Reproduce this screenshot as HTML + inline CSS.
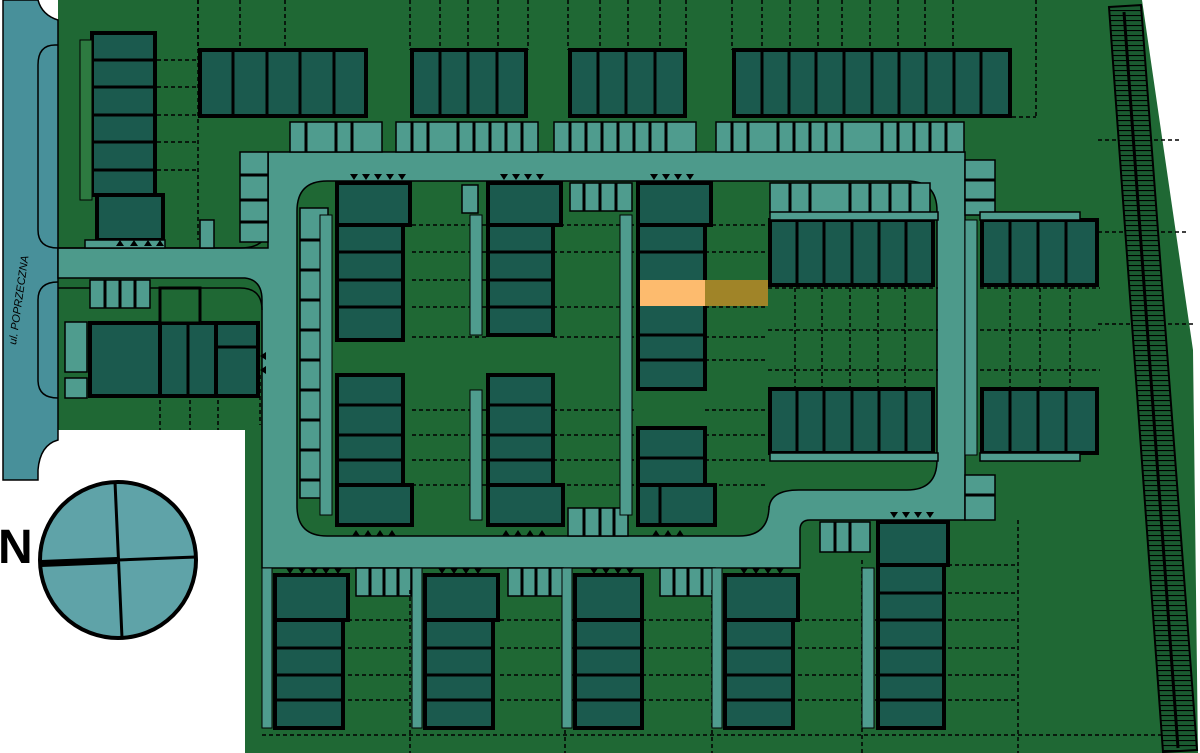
<!DOCTYPE html>
<html><head><meta charset="utf-8"><style>
html,body{margin:0;padding:0;background:#fff;width:1200px;height:753px;overflow:hidden}
svg{display:block}
.b{fill:#1b5a4e;stroke:#000;stroke-width:4}
.d{stroke:#000;stroke-width:3}
.l{fill:none;stroke:#000;stroke-width:1.5;stroke-dasharray:4 3}
.p{fill:#4f9c8e;stroke:#000;stroke-width:1.5}
</style></head><body>
<svg width="1200" height="753" viewBox="0 0 1200 753" xmlns="http://www.w3.org/2000/svg">
<!-- grass -->
<path d="M58,0 L1142,0 L1193,350 L1198,753 L245,753 L245,430 L58,430 Z" fill="#1f6834"/>
<!-- street -->
<path d="M3,0 L38,0 Q42,15 58,20 L58,440 Q40,445 38,470 L38,480 L3,480 Z" fill="#48909a" stroke="#000" stroke-width="1.5"/>
<text x="0" y="0" transform="translate(16,345) rotate(-82)" font-family="Liberation Sans, sans-serif" font-style="italic" font-size="11" fill="#000">ul. POPRZECZNA</text>
<path d="M58,45 L55,45 Q38,45 38,65 L38,230 Q38,248 58,248" fill="none" stroke="#000" stroke-width="1.5"/>
<path d="M58,282 Q38,282 38,300 L38,380 Q38,398 58,398" fill="none" stroke="#000" stroke-width="1.5"/>
<!-- roads -->
<path d="M58,248 L268,248 L268,152 L965,152 L965,520 L810,520 Q800,520 800,530 L800,568 L262,568 L262,300 Q262,280 245,278 L58,278 Z" fill="#4d9a8b" stroke="#000" stroke-width="1.5"/>
<path d="M58,248 L240,248 Q268,248 268,225 L268,152" fill="none" stroke="#000" stroke-width="1.5"/>
<path d="M327,181 L907,181 Q937,181 937,211 L937,460 Q937,490 907,490 L799,490 Q769,490 769,510 L769,506 Q769,536 739,536 L327,536 Q297,536 297,506 L297,211 Q297,181 327,181 Z" fill="#1f6834" stroke="#000" stroke-width="1.5"/>
<!-- left lower parcel road edge -->
<path d="M58,288 L240,288 Q262,288 262,310" fill="none" stroke="#000" stroke-width="1.5"/>
<!-- walkways light -->
<rect x="240" y="152" width="28" height="90" class="p"/>
<rect x="300" y="208" width="28" height="290" class="p"/>
<rect x="965" y="160" width="30" height="55" class="p"/>
<rect x="965" y="475" width="30" height="45" class="p"/>
<rect x="965" y="220" width="12" height="235" fill="#4f9c8e" stroke="#000" stroke-width="1"/>
<!-- parking rows top -->
<g class="p">
<rect x="290" y="122" width="92" height="30"/><rect x="396" y="122" width="142" height="30"/><rect x="554" y="122" width="142" height="30"/><rect x="716" y="122" width="248" height="30"/>
<rect x="570" y="183" width="62" height="28"/><rect x="770" y="183" width="160" height="30"/>
<rect x="568" y="508" width="60" height="28"/><rect x="820" y="522" width="50" height="30"/>
<rect x="356" y="568" width="55" height="28"/><rect x="508" y="568" width="55" height="28"/><rect x="660" y="568" width="55" height="28"/>
<rect x="90" y="280" width="60" height="28"/><rect x="65" y="322" width="22" height="50"/><rect x="65" y="378" width="22" height="20"/>
<rect x="462" y="185" width="16" height="28"/><rect x="200" y="220" width="14" height="28"/>
</g>
<g class="d" fill="none" stroke-width="1.2">
<path d="M306,122v30M336,122v30M352,122v30M412,122v30M428,122v30M458,122v30M474,122v30M490,122v30M506,122v30M522,122v30M570,122v30M586,122v30M602,122v30M618,122v30M634,122v30M650,122v30M666,122v30M732,122v30M748,122v30M778,122v30M794,122v30M810,122v30M826,122v30M842,122v30M882,122v30M898,122v30M914,122v30M930,122v30M946,122v30"/>
<path d="M300,240h28M300,270h28M300,300h28M300,330h28M300,360h28M300,390h28M300,420h28M300,450h28M300,480h28M240,175h28M240,200h28M240,222h28M965,180h30M965,200h30M965,495h30M584,183v28M600,183v28M616,183v28M790,183v30M810,183v30M850,183v30M870,183v30M890,183v30M910,183v30M584,508v28M600,508v28M614,508v28M370,568v28M384,568v28M398,568v28M522,568v28M536,568v28M550,568v28M674,568v28M688,568v28M702,568v28M835,522v30M850,522v30M105,280v28M120,280v28M135,280v28"/>
</g>
<!-- dashed lot lines -->
<g class="l">
<path d="M198,0v50M240,0v50M285,0v50M410,0v50M440,0v50M468,0v50M498,0v50M528,0v50M568,0v50M600,0v50M628,0v50M660,0v50M686,0v50M732,0v50M762,0v50M790,0v50M818,0v50M842,0v50M870,0v50M898,0v50M925,0v50M953,0v50M1036,0v117M1012,117h24"/>
<path d="M157,60h40M157,87h40M157,115h40M157,142h40M157,170h40M198,0v240"/>
<path d="M412,225h75M412,252h75M412,280h75M412,307h75M412,337h75M412,410h75M412,435h75M412,460h75M412,485h75"/>
<path d="M553,225h84M553,252h84M553,307h84M553,337h84M553,410h84M553,435h84M553,460h84M553,485h84"/>
<path d="M705,225h63M705,252h63M705,307h63M705,337h63M705,360h63M705,410h63M705,435h63M705,460h63M705,485h63"/>
<path d="M768,288h170M768,330h170M768,370h170M795,288v100M822,288v100M850,288v100M878,288v100M905,288v100"/>
<path d="M980,288h120M980,330h120M980,370h120M1010,288v100M1040,288v100M1070,288v100"/>
<path d="M1098,140h82M1098,232h88M1098,324h95"/>
<path d="M348,620h75M348,648h75M348,675h75M348,700h75M500,620h73M500,648h73M500,675h73M500,700h73M642,620h80M642,648h80M642,675h80M642,700h80M798,620h79M798,648h79M798,675h79M798,700h79M948,565h70M948,593h70M948,620h70M948,648h70M948,675h70M948,700h70"/>
<path d="M262,735h940M410,590v163M565,590v163M712,590v163M862,560v193M1018,520v233"/>
<path d="M160,400v30M190,400v30M218,400v30M260,375v50"/>
</g>
<!-- top row buildings -->
<rect x="200" y="50" width="166" height="66" class="b"/>
<path class="d" d="M233,50v66M267,50v66M300,50v66M334,50v66"/>
<rect x="412" y="50" width="114" height="66" class="b"/>
<path class="d" d="M440,50v66M468,50v66M497,50v66"/>
<rect x="570" y="50" width="115" height="66" class="b"/>
<path class="d" d="M598,50v66M626,50v66M655,50v66"/>
<rect x="734" y="50" width="276" height="66" class="b"/>
<path class="d" d="M762,50v66M789,50v66M816,50v66M844,50v66M872,50v66M899,50v66M926,50v66M954,50v66M981,50v66"/>
<!-- left column -->
<rect x="92" y="33" width="63" height="162" class="b"/>
<path class="d" d="M92,60h63M92,87h63M92,115h63M92,142h63M92,170h63"/>
<rect x="97" y="195" width="66" height="45" class="b"/>
<rect x="80" y="40" width="12" height="160" fill="#2d7a40" stroke="#000" stroke-width="1"/>
<rect x="85" y="240" width="80" height="8" class="p"/>
<!-- left cluster -->
<rect x="90" y="323" width="70" height="73" class="b"/>
<rect x="160" y="323" width="56" height="73" class="b"/>
<path class="d" d="M188,323v73"/>
<rect x="216" y="323" width="42" height="73" class="b"/>
<path class="d" d="M216,347h42"/>
<rect x="160" y="288" width="40" height="35" fill="#1f6834" stroke="#000" stroke-width="3"/>
<!-- column A -->
<rect x="337" y="183" width="73" height="42" class="b"/>
<rect x="337" y="225" width="66" height="115" class="b"/>
<path class="d" d="M337,252h66M337,280h66M337,307h66"/>
<rect x="337" y="375" width="66" height="110" class="b"/>
<path class="d" d="M337,405h66M337,435h66M337,460h66"/>
<rect x="337" y="485" width="75" height="40" class="b"/>
<!-- column B -->
<rect x="488" y="183" width="73" height="42" class="b"/>
<rect x="488" y="225" width="65" height="110" class="b"/>
<path class="d" d="M488,252h65M488,280h65M488,307h65"/>
<rect x="488" y="375" width="65" height="110" class="b"/>
<path class="d" d="M488,405h65M488,435h65M488,460h65"/>
<rect x="488" y="485" width="75" height="40" class="b"/>
<!-- column C -->
<rect x="638" y="183" width="73" height="42" class="b"/>
<rect x="638" y="225" width="67" height="164" class="b"/>
<path class="d" d="M638,252h67M638,335h67M638,360h67"/>
<rect x="640" y="280" width="65" height="26" fill="#fdbb6e"/>
<rect x="705" y="280" width="63" height="26" fill="#a08428"/>
<rect x="638" y="428" width="67" height="57" class="b"/>
<path class="d" d="M638,458h67"/>
<rect x="638" y="485" width="77" height="40" class="b"/>
<path class="d" d="M660,485v40"/>
<!-- right blocks -->
<rect x="770" y="220" width="163" height="65" class="b"/>
<path class="d" d="M797,220v65M824,220v65M852,220v65M879,220v65M906,220v65"/>
<rect x="982" y="220" width="115" height="65" class="b"/>
<path class="d" d="M1010,220v65M1038,220v65M1066,220v65"/>
<rect x="770" y="389" width="163" height="64" class="b"/>
<path class="d" d="M797,389v64M824,389v64M852,389v64M879,389v64M906,389v64"/>
<rect x="982" y="389" width="115" height="64" class="b"/>
<path class="d" d="M1010,389v64M1038,389v64M1066,389v64"/>
<rect x="770" y="453" width="168" height="8" class="p"/>
<rect x="980" y="453" width="100" height="8" class="p"/>
<rect x="770" y="212" width="168" height="8" class="p"/>
<rect x="980" y="212" width="100" height="8" class="p"/>
<!-- bottom row -->
<g>
<rect x="275" y="575" width="73" height="45" class="b"/><rect x="275" y="620" width="68" height="108" class="b"/><path class="d" d="M275,648h68M275,675h68M275,700h68"/>
<rect x="425" y="575" width="73" height="45" class="b"/><rect x="425" y="620" width="68" height="108" class="b"/><path class="d" d="M425,648h68M425,675h68M425,700h68"/>
<rect x="575" y="575" width="67" height="45" class="b"/><rect x="575" y="620" width="67" height="108" class="b"/><path class="d" d="M575,648h67M575,675h67M575,700h67"/>
<rect x="725" y="575" width="73" height="45" class="b"/><rect x="725" y="620" width="68" height="108" class="b"/><path class="d" d="M725,648h68M725,675h68M725,700h68"/>
<rect x="878" y="522" width="70" height="43" class="b"/><rect x="878" y="565" width="66" height="163" class="b"/><path class="d" d="M878,593h66M878,620h66M878,648h66M878,675h66M878,700h66"/>
</g>
<g fill="#4f9c8e" stroke="#000" stroke-width="1">
<rect x="262" y="568" width="10" height="160"/><rect x="412" y="568" width="10" height="160"/><rect x="562" y="568" width="10" height="160"/><rect x="712" y="568" width="10" height="160"/><rect x="862" y="568" width="12" height="160"/>
<rect x="470" y="215" width="12" height="120"/><rect x="470" y="390" width="12" height="130"/><rect x="620" y="215" width="12" height="300"/><rect x="320" y="215" width="12" height="300"/>
</g>
<!-- entrance arrows -->
<g fill="#000">
<path d="M350,174l4,6 4,-6zM362,174l4,6 4,-6zM374,174l4,6 4,-6zM386,174l4,6 4,-6zM398,174l4,6 4,-6z"/>
<path d="M500,174l4,6 4,-6zM512,174l4,6 4,-6zM524,174l4,6 4,-6zM536,174l4,6 4,-6z"/>
<path d="M650,174l4,6 4,-6zM662,174l4,6 4,-6zM674,174l4,6 4,-6zM686,174l4,6 4,-6z"/>
<path d="M116,246l4,-6 4,6zM130,246l4,-6 4,6zM144,246l4,-6 4,6zM156,246l4,-6 4,6z"/>
<path d="M352,536l4,-6 4,6zM364,536l4,-6 4,6zM376,536l4,-6 4,6zM388,536l4,-6 4,6z"/>
<path d="M502,536l4,-6 4,6zM514,536l4,-6 4,6zM526,536l4,-6 4,6zM538,536l4,-6 4,6z"/>
<path d="M652,536l4,-6 4,6zM664,536l4,-6 4,6zM676,536l4,-6 4,6z"/>
<path d="M286,568l4,6 4,-6zM298,568l4,6 4,-6zM310,568l4,6 4,-6zM322,568l4,6 4,-6zM334,568l4,6 4,-6z"/>
<path d="M438,568l4,6 4,-6zM450,568l4,6 4,-6zM462,568l4,6 4,-6zM474,568l4,6 4,-6z"/>
<path d="M590,568l4,6 4,-6zM602,568l4,6 4,-6zM614,568l4,6 4,-6zM626,568l4,6 4,-6z"/>
<path d="M740,568l4,6 4,-6zM752,568l4,6 4,-6zM764,568l4,6 4,-6zM776,568l4,6 4,-6z"/>
<path d="M890,512l4,6 4,-6zM902,512l4,6 4,-6zM914,512l4,6 4,-6zM926,512l4,6 4,-6z"/>
<path d="M266,352l-6,4 6,4zM266,366l-6,4 6,4z"/>
</g>
<!-- tree strip -->
<defs><pattern id="h" width="6" height="5" patternUnits="userSpaceOnUse"><rect width="6" height="5" fill="#1a5a30"/><path d="M0,0.5h6" stroke="#000" stroke-width="1.2"/></pattern></defs>
<path d="M1109,7 L1141,5 L1197,750 L1163,752 Z" fill="url(#h)" stroke="#000" stroke-width="2"/>
<path d="M1124,12 L1178,748" stroke="#000" stroke-width="3"/>
<!-- compass -->
<circle cx="118" cy="560" r="78" fill="#5fa3a8" stroke="#000" stroke-width="4"/>
<path d="M115,482 L122,638 M41,563 L196,557" stroke="#000" stroke-width="3"/>
<path d="M41,560 L117,557 L117,564 L41,567 Z" fill="#000"/>
<text x="-2" y="563" font-family="Liberation Sans, sans-serif" font-weight="bold" font-size="48" fill="#000">N</text>
</svg>
</body></html>
